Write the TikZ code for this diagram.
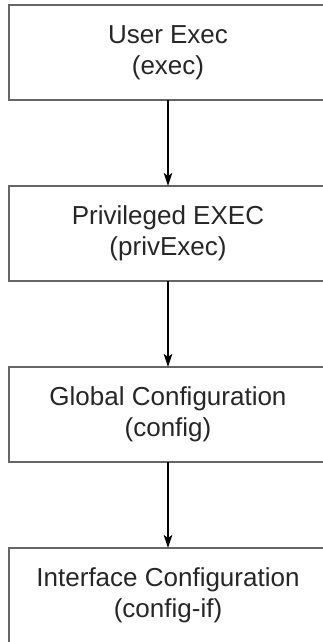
\documentclass[tikz,border=0pt]{standalone}
\usepackage{fontspec}
\setmainfont{Liberation Sans}
\usetikzlibrary{positioning, arrows.meta}

\begin{document}
\begin{tikzpicture}[
    mode/.style={draw=black!60, line width=1.5pt, minimum width=318pt, minimum height=95pt,
      outer sep=0pt, align=center, text=black!85, font=\fontsize{26}{31}\selectfont},
    modearrow/.style={line width=1.2pt, -{Stealth[length=13pt, width=8.5pt, inset=3pt]}}
  ]
  \useasboundingbox (0,0) rectangle (322pt,-642pt);
  \node[mode] (mode1) at (168pt,-52.5pt) {User Exec\\(exec)};
  \foreach \modetext [
    count=\pos from 2,
    remember=\pos as \prevpos (initially 1)
  ] in {{Privileged EXEC\\(privExec)}, {Global Configuration\\(config)}, {Interface Configuration\\(config-if)}} {
    \node[mode, below=86pt of mode\prevpos] (mode\pos) {\modetext};
    \draw[modearrow] (mode\prevpos) -- (mode\pos);
  }
\end{tikzpicture}
\end{document}
